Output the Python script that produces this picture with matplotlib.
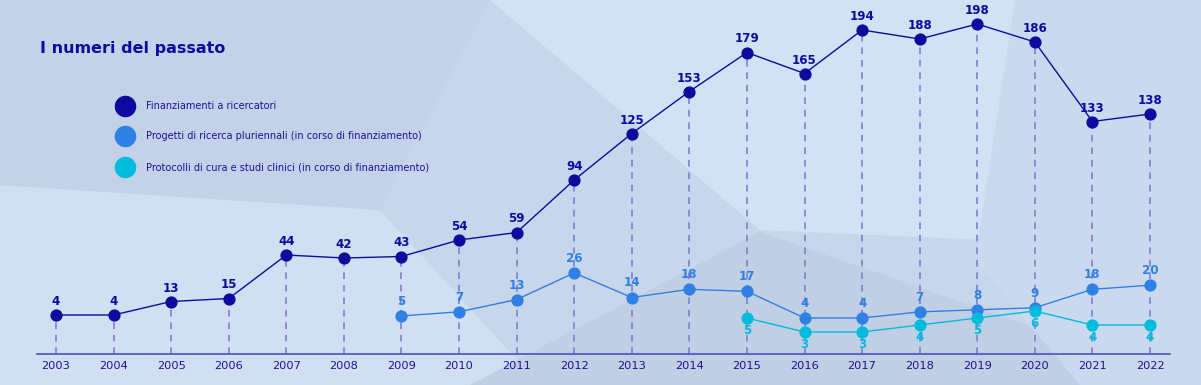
import matplotlib
matplotlib.use("Agg")
import matplotlib.pyplot as plt
from matplotlib.patches import Polygon
from matplotlib.lines import Line2D

# ---- data ----
years = list(range(2003, 2023))
finanziamenti = [4, 4, 13, 15, 44, 42, 43, 54, 59, 94, 125, 153, 179, 165, 194, 188, 198, 186, 133, 138]
progetti_years = list(range(2009, 2023))
progetti = [5, 7, 13, 26, 14, 18, 17, 4, 4, 7, 8, 9, 18, 20]
protocolli_years = list(range(2015, 2023))
protocolli = [5, 3, 3, 4, 5, 6, 4, 4]
year_labels = [str(y) for y in years]
series_names = ["Finanziamenti a ricercatori",
                "Progetti di ricerca pluriennali (in corso di finanziamento)",
                "Protocolli di cura e studi clinici (in corso di finanziamento)"]
title = "I numeri del passato"

C_DARK = "#0f0a9e"
C_BLUE = "#2f80e4"
C_CYAN = "#00bcdc"
C_TEXT = "#1a1299"
C_DASH = "#7c80d2"
C_AXIS = "#4f4fc6"

W, H = 1201, 385
fig = plt.figure(figsize=(W / 100, H / 100), dpi=100)
fig.patch.set_facecolor("#c7d6eb")

def P(x, y):
    return (x / W, 1 - y / H)

# background decoration
polys = [
    ([(490, 0), (1015, 0), (985, 240), (760, 230)], "#d3e1f5"),
    ([(0, 185), (380, 210), (540, 385), (0, 385)], "#d1dff3"),
    ([(470, 385), (760, 232), (1201, 385)], "#c1cfe5"),
    ([(1015, 0), (1201, 0), (1201, 385), (1080, 385), (975, 260)], "#cbd9ee"),
    ([(0, 0), (490, 0), (380, 210), (0, 185)], "#c3d2e8"),
]
for pts, col in polys:
    fig.add_artist(Polygon([P(*p) for p in pts], closed=True, transform=fig.transFigure,
                           facecolor=col, edgecolor="none", zorder=0))

left, right, bottom_px = 37, 1170, 354
rect = [left / W, 1 - bottom_px / H, (right - left) / W, bottom_px / H]
ax = fig.add_axes(rect)
ax2 = ax.twinx()
ax3 = ax.twinx()
for a in (ax, ax2, ax3):
    a.set_facecolor("none")
    for s in a.spines.values():
        s.set_visible(False)
    a.set_yticks([])

x0 = 2003 - 19 / 57.58
x1 = 2022 + 20 / 57.58
ax.set_xlim(x0, x1)

# scales (pixel mapping y = a - b*v)
def lims(a, b):
    return ((a - bottom_px) / b, a / b)

ax.set_ylim(*lims(321, 1.50))
ax2.set_ylim(*lims(326.2, 2.05))
ax3.set_ylim(*lims(353, 7.0))

ax.spines["bottom"].set_visible(True)
ax.spines["bottom"].set_color(C_AXIS)
ax.spines["bottom"].set_linewidth(1.2)
ax.set_xticks(years)
ax.set_xticklabels(year_labels)
ax.tick_params(axis="x", length=0, pad=5, labelsize=8.2, labelcolor=C_TEXT)

# dashed drop lines
ax.vlines(years, ax.get_ylim()[0], finanziamenti, colors=C_DASH, linewidth=1.2,
          linestyles=(0, (4, 3.5)), zorder=1)

ax.plot(years, finanziamenti, color=C_DARK, lw=1.0, marker="o", ms=7.8, zorder=5)
ax2.plot(progetti_years, progetti, color=C_BLUE, lw=1.0, marker="o", ms=7.8, zorder=5)
ax3.plot(protocolli_years, protocolli, color=C_CYAN, lw=1.0, marker="o", ms=7.8, zorder=5)

fs = 8.6
for x, v in zip(years, finanziamenti):
    ax.annotate(str(v), (x, v), xytext=(0, 7), textcoords="offset pixels", ha="center",
                va="bottom", fontsize=fs, fontweight="bold", color=C_DARK)
for x, v in zip(progetti_years, progetti):
    ax2.annotate(str(v), (x, v), xytext=(0, 8), textcoords="offset pixels", ha="center",
                 va="bottom", fontsize=fs, fontweight="bold", color=C_BLUE)
for x, v in zip(protocolli_years, protocolli):
    ax3.annotate(str(v), (x, v), xytext=(0, -6), textcoords="offset pixels", ha="center",
                 va="top", fontsize=fs, fontweight="bold", color=C_CYAN)

# title
fig.text(*P(40, 49), title, fontsize=11.5, fontweight="bold", color=C_DARK, va="center", ha="left")

# legend
for i, (name, col) in enumerate(zip(series_names, [C_DARK, C_BLUE, C_CYAN])):
    y = 106 + i * 30.5
    fig.add_artist(Line2D([125 / W], [1 - y / H], marker="o", ms=14.5, color=col,
                          linestyle="none", transform=fig.transFigure))
    fig.text(*P(146, y), name, fontsize=7, color=C_TEXT, va="center", ha="left")

fig.savefig("out.png", dpi=100, facecolor=fig.get_facecolor())
